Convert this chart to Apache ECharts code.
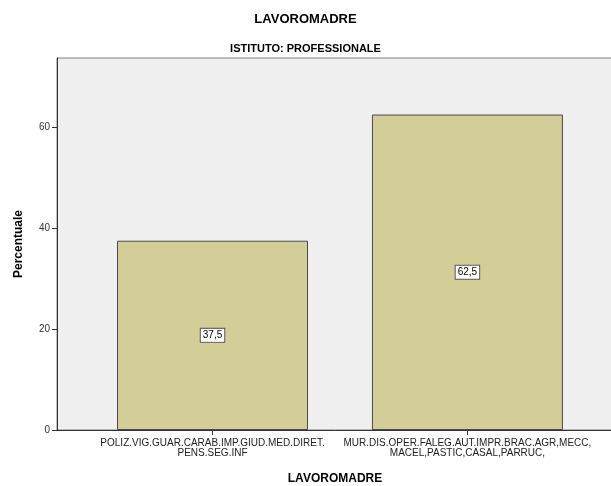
<!DOCTYPE html>
<html>
<head>
<meta charset="utf-8">
<script src="https://cdn.jsdelivr.net/npm/echarts@6/dist/echarts.min.js"></script>
<style>html,body{margin:0;padding:0;background:#fff}#c{width:611px;height:486px}</style>
</head>
<body>
<div id="c"></div>
<script>
var categories = ["POLIZ.VIG.GUAR.CARAB.IMP.GIUD.MED.DIRET.\nPENS.SEG.INF", "MUR.DIS.OPER.FALEG.AUT.IMPR.BRAC.AGR,MECC,\nMACEL,PASTIC,CASAL,PARRUC,"];
var values = [37.5, 62.5];
var yTicks = [0, 20, 40, 60];

var chart = echarts.init(document.getElementById('c'), null, {renderer: 'canvas'});
var data = values.map(function (v, i) { return [i, v]; });
var font = '"Liberation Sans", Arial, sans-serif';
chart.setOption({
  animation: false,
  backgroundColor: '#ffffff',
  title: [
    {text: 'LAVOROMADRE', left: 'center', top: 8, textStyle: {fontFamily: font, fontSize: 13, fontWeight: 'bold', color: '#000'}},
    {text: 'ISTITUTO: PROFESSIONALE', left: 'center', top: 38, textStyle: {fontFamily: font, fontSize: 11, fontWeight: 'bold', color: '#000'}}
  ],
  grid: {left: 57, right: -2, top: 58, bottom: 56, outerBoundsMode: 'none', containLabel: false,
    show: true, backgroundColor: '#f0f0f0', borderColor: '#7f7f7f', borderWidth: 1},
  xAxis: {
    type: 'value', min: -0.61, max: 1.571,
    name: 'LAVOROMADRE', nameLocation: 'middle', nameGap: 43,
    nameTextStyle: {fontFamily: font, fontSize: 12, fontWeight: 'bold', color: '#000'},
    axisLine: {show: true, onZero: false, lineStyle: {color: '#333', width: 1}},
    axisTick: {show: true, length: 5, lineStyle: {color: '#333'}, customValues: [0, 1]},
    axisLabel: {customValues: [0, 1], fontFamily: font, fontSize: 10, color: '#222', lineHeight: 10, margin: 8,
      formatter: function (v) { var i = Math.round(v); return categories[i] || ''; }},
    splitLine: {show: false}
  },
  yAxis: {
    type: 'value', min: 0, max: 73.7, interval: 20,
    name: 'Percentuale', nameLocation: 'middle', nameGap: 32, nameRotate: 90,
    nameTextStyle: {fontFamily: font, fontSize: 12, fontWeight: 'bold', color: '#000'},
    axisLine: {show: true, onZero: false, lineStyle: {color: '#333'}},
    axisTick: {show: true, length: 5, lineStyle: {color: '#333'}, customValues: yTicks},
    axisLabel: {customValues: yTicks, fontFamily: font, fontSize: 10, color: '#333', margin: 7},
    splitLine: {show: false}
  },
  series: [{
    type: 'bar', data: data, barWidth: 191,
    itemStyle: {color: '#d3ce98', borderColor: '#4a4a4a', borderWidth: 1},
    label: {show: true, position: 'inside', fontFamily: font, fontSize: 10, color: '#000',
      backgroundColor: '#fff', borderColor: '#555', borderWidth: 1, padding: [2, 2, 1, 2],
      formatter: function (p) { return String(p.value[1]).replace('.', ','); }}
  }]
});
</script>
</body>
</html>
